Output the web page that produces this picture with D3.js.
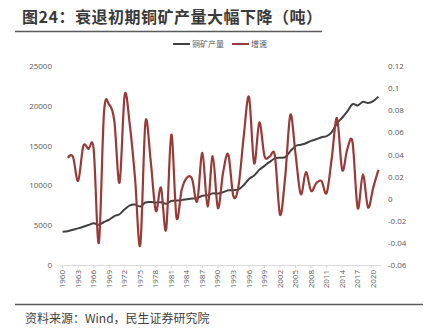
<!DOCTYPE html>
<html>
<head>
<meta charset="utf-8">
<script src="https://cdn.jsdelivr.net/npm/d3@7/dist/d3.min.js"></script>
<style>
  body { margin: 0; background: #fff; }
  svg { display: block; }
  .axis text { font-family: "Open Sans", "Noto Sans", sans-serif; font-size: 8px; fill: #595959; }
</style>
</head>
<body>
<script>
// copper mine output (left axis) and its yearly growth (right axis)
var years = d3.range(1960, 2022);

var output = [4180, 4250, 4430, 4600, 4800, 5020, 5250, 5050, 5400, 5700,
              6150, 6380, 7000, 7500, 7600, 7350, 7850, 7900, 7850, 7880,
              7700, 8050, 8100, 8150, 8250, 8350, 8400, 8700, 8750, 9000,
              8980, 9150, 9380, 9400, 9500, 10050, 10800, 11250, 11950, 12450,
              12950, 13400, 13480, 13550, 14300, 14950, 15100, 15300, 15600, 15800,
              16050, 16200, 16700, 17800, 18500, 19300, 20200, 20050, 20500, 20350,
              20600, 21150];

// growth starts in 1961
var growth = [null, 0.037, 0.038, 0.016, 0.0475, 0.045, 0.045, -0.040, 0.078, 0.085,
              0.070, 0.0145, 0.094, 0.066, 0.018, -0.042, 0.069, 0.035, -0.011, 0.010,
              -0.028, 0.058, -0.017, 0.008, 0.019, 0.018, -0.0025, 0.0415, -0.007, 0.0385,
              -0.0085, 0.0236, 0.040, 0.002, 0.012, 0.057, 0.092, 0.032, 0.069, 0.0385,
              0.038, 0.039, -0.0145, 0.020, 0.076, 0.040, 0.004, 0.024, 0.007, 0.014,
              0.016, 0.005, 0.037, 0.073, 0.026, 0.045, 0.051, -0.0085, 0.022, -0.008,
              0.010, 0.026];

var leftTicks = [0, 5000, 10000, 15000, 20000, 25000];
var rightTicks = [-0.06, -0.04, -0.02, 0, 0.02, 0.04, 0.06, 0.08, 0.1, 0.12];
var yearTicks = years.filter(function(y) { return (y - 1960) % 3 === 0; });

var seriesNames = ['铜矿产量', '增速'];
var colors = ['#404040', '#983a37'];

var width = 427, height = 336;
var plot = {left: 60, right: 381, top: 66, bottom: 265};

var svg = d3.select('body').append('svg')
  .attr('width', width)
  .attr('height', height);

// title and rule under it
svg.append('text')
  .attr('x', 22)
  .attr('y', 23)
  .style('font-family', '"Noto Sans CJK SC", sans-serif')
  .style('font-size', '16px')
  .style('font-weight', 'bold')
  .style('letter-spacing', '0.5px')
  .style('fill', '#3a3a3a')
  .text('图24：衰退初期铜矿产量大幅下降（吨）');

svg.append('line')
  .attr('x1', 15).attr('x2', 322)
  .attr('y1', 31.5).attr('y2', 31.5)
  .attr('stroke', '#5a5a5a')
  .attr('stroke-width', 1.5);

var x = d3.scaleBand().domain(years).range([plot.left, plot.right]);
var cx = function(y) { return x(y) + x.bandwidth() / 2; };

var yLeft = d3.scaleLinear().domain([0, 25000]).range([plot.bottom, plot.top]);
var yRight = d3.scaleLinear().domain([-0.06, 0.12]).range([plot.bottom, plot.top]);

var xAxis = svg.append('g')
  .attr('class', 'axis')
  .attr('transform', 'translate(0,' + plot.bottom + ')')
  .call(d3.axisBottom(x).tickValues(yearTicks).tickSize(3).tickSizeOuter(0));
xAxis.select('.domain').attr('stroke', '#d9d9d9');
xAxis.selectAll('.tick line').attr('stroke', '#d9d9d9');
xAxis.selectAll('.tick text')
  .attr('transform', 'rotate(-90)')
  .attr('text-anchor', 'end')
  .attr('x', -5)
  .attr('y', 0)
  .attr('dy', '0.32em');

var leftAxis = svg.append('g')
  .attr('class', 'axis')
  .attr('transform', 'translate(' + plot.left + ',0)')
  .call(d3.axisLeft(yLeft).tickValues(leftTicks).tickSize(0).tickPadding(8)
    .tickFormat(d3.format('d')));
leftAxis.select('.domain').remove();

var rightAxis = svg.append('g')
  .attr('class', 'axis')
  .attr('transform', 'translate(' + plot.right + ',0)')
  .call(d3.axisRight(yRight).tickValues(rightTicks).tickSize(0).tickPadding(7)
    .tickFormat(function(d) { return String(+d.toFixed(2)); }));
rightAxis.select('.domain').remove();

var outputLine = d3.line()
  .x(function(d, i) { return cx(years[i]); })
  .y(function(d) { return yLeft(d); })
  .curve(d3.curveCardinal.tension(0));

var growthLine = d3.line()
  .defined(function(d) { return d !== null; })
  .x(function(d, i) { return cx(years[i]); })
  .y(function(d) { return yRight(d); })
  .curve(d3.curveCardinal.tension(0));

svg.append('path')
  .datum(output)
  .attr('fill', 'none')
  .attr('stroke', colors[0])
  .attr('stroke-width', 2)
  .attr('d', outputLine);

svg.append('path')
  .datum(growth)
  .attr('fill', 'none')
  .attr('stroke', colors[1])
  .attr('stroke-width', 2.2)
  .attr('d', growthLine);

// legend
var legend = svg.append('g').attr('transform', 'translate(173,44)');
var legendX = [0, 59];
seriesNames.forEach(function(name, i) {
  legend.append('line')
    .attr('x1', legendX[i]).attr('x2', legendX[i] + 17)
    .attr('y1', 0).attr('y2', 0)
    .attr('stroke', colors[i])
    .attr('stroke-width', 2);
  legend.append('text')
    .attr('x', legendX[i] + 19)
    .attr('y', 0)
    .attr('dy', '0.35em')
    .style('font-family', '"Noto Sans CJK SC", sans-serif')
    .style('font-size', '8px')
    .style('fill', '#595959')
    .text(name);
});

// bottom rule and source note
svg.append('line')
  .attr('x1', 15).attr('x2', 423)
  .attr('y1', 304.5).attr('y2', 304.5)
  .attr('stroke', '#5a5a5a')
  .attr('stroke-width', 1.5);

svg.append('text')
  .attr('x', 25)
  .attr('y', 323)
  .style('font-family', '"Noto Sans CJK SC", sans-serif')
  .style('font-size', '12px')
  .style('fill', '#404040')
  .text('资料来源：Wind，民生证券研究院');
</script>
</body>
</html>
